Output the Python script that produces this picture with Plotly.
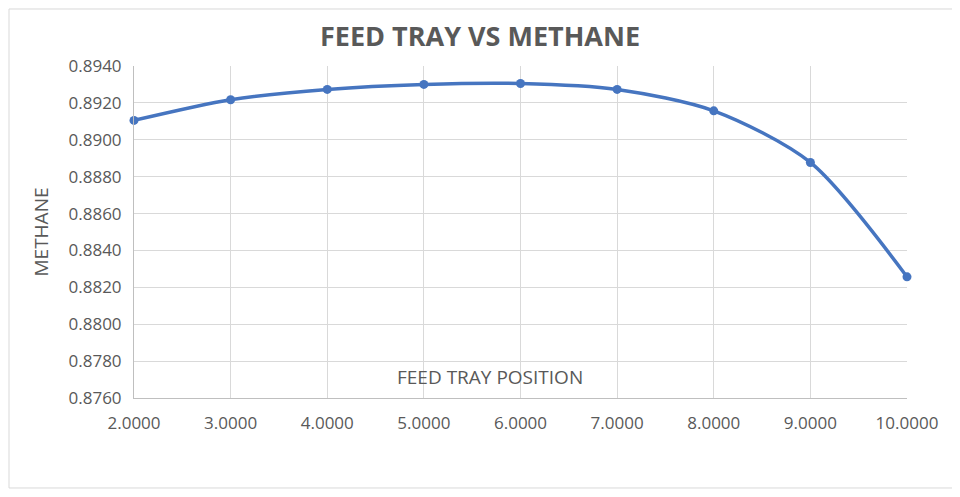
import plotly.graph_objects as go

feed_tray = [2, 3, 4, 5, 6, 7, 8, 9, 10]
methane = [0.89105, 0.89217, 0.89273, 0.89300, 0.89305, 0.89273, 0.89157, 0.88877, 0.88257]

y_ticks = [0.8760 + 0.0020 * i for i in range(10)]
x_ticks = list(range(2, 11))

line_color = "#4675C0"
grid_color = "#d9d9d9"
text_color = "#595959"

fig = go.Figure()
fig.add_trace(go.Scatter(
    x=feed_tray,
    y=methane,
    mode="lines+markers",
    line=dict(color=line_color, width=3.5, shape="spline", smoothing=0.8),
    marker=dict(color=line_color, size=9),
    cliponaxis=False,
    showlegend=False,
))

# page body has an 8px margin, so size and margins are shifted to match
fig.update_layout(
    width=944,
    height=481,
    plot_bgcolor="white",
    paper_bgcolor="white",
    font=dict(family="Open Sans", color=text_color, size=17),
    margin=dict(l=126, r=45, t=58, b=91),
    title=dict(
        text="<b>FEED TRAY VS METHANE</b>",
        x=0.5, xanchor="center", y=0.94, yanchor="middle",
        font=dict(size=27, color=text_color),
    ),
    xaxis=dict(
        range=[2, 10],
        tickvals=x_ticks,
        tickformat=".4f",
        showgrid=True, gridcolor=grid_color, gridwidth=1,
        showline=True, linecolor="#bfbfbf", linewidth=1,
        zeroline=False, ticks="", ticklabelstandoff=10,
    ),
    yaxis=dict(
        range=[0.8760, 0.8940],
        tickvals=y_ticks,
        tickformat=".4f",
        showgrid=True, gridcolor=grid_color, gridwidth=1,
        showline=True, linecolor="#bfbfbf", linewidth=1,
        zeroline=False, ticks="", ticklabelstandoff=8,
        title=dict(text="METHANE", font=dict(size=19, color=text_color), standoff=14),
    ),
    annotations=[dict(
        text="FEED TRAY POSITION",
        xref="paper", yref="paper",
        x=0.461, y=0.063, xanchor="center", yanchor="middle",
        showarrow=False,
        font=dict(size=19, color=text_color),
    )],
    # light chart-area border; right side runs off the page like the reference
    shapes=[dict(
        type="rect", xref="paper", yref="paper",
        x0=-0.1617, x1=1.08, y0=-0.271, y1=1.1717,
        line=dict(color=grid_color, width=1),
        fillcolor="rgba(0,0,0,0)", layer="below",
    )],
)

fig.write_html("out.html")
